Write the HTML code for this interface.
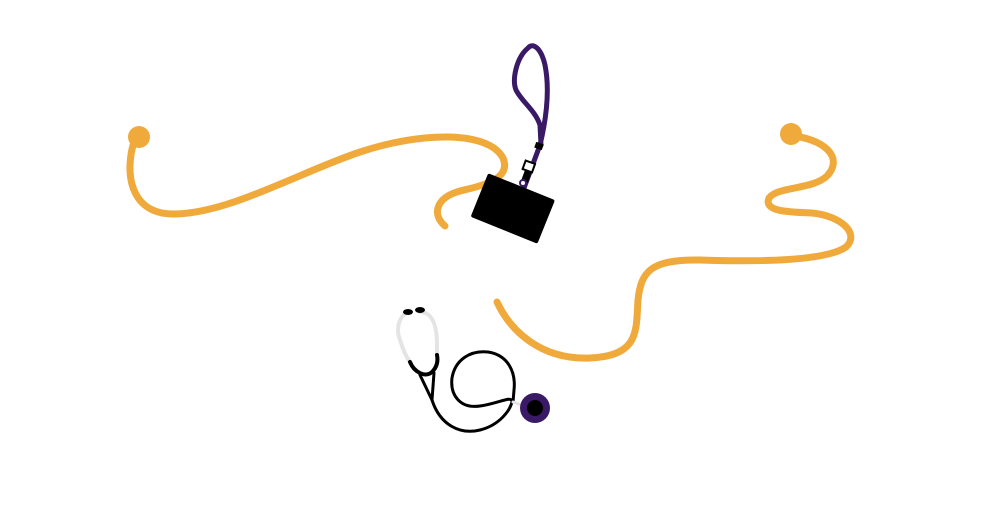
<!DOCTYPE html>
<html><head><meta charset="utf-8"><style>html,body{margin:0;padding:0;background:#fff}svg{display:block}</style></head>
<body>
<svg width="1000" height="529" viewBox="0 0 1000 529" xmlns="http://www.w3.org/2000/svg">
<g fill="none" stroke="#f0aa3c" stroke-width="7" stroke-linecap="round">
<path d="M134,142 C125,170 128,215 175,214 C230,213 300,172 360,152 C420,132 488,130 503,158 C512,180 480,186 460,191 C435,198 432,215 445,226"/>
<path d="M795,136 C830,142 842,160 827,176 C812,190 778,186 769,198 C763,212 790,212 812,213 C842,216 860,234 846,247 C826,261 760,262 700,260 C650,259 641,272 638,300 C636,330 640,356 590,358 C540,360 510,330 497,302"/>
</g>
<circle cx="139" cy="137" r="11" fill="#f0aa3c"/>
<circle cx="791" cy="134" r="11" fill="#f0aa3c"/>
<!-- lanyard -->
<path d="M524,188 L540,145 C546,120 550,90 545,65 C541,48 533,42 528,48 C516,58 512,80 516,90 C522,102 535,110 540,125 L541,145" fill="none" stroke="#3a1a66" stroke-width="5" stroke-linecap="round"/>
<rect x="535" y="143" width="8" height="6" fill="#000" transform="rotate(20 539 146)"/>
<rect x="524" y="162" width="10" height="9" fill="#fff" stroke="#000" stroke-width="2" transform="rotate(20 529 166)"/>
<rect x="523" y="170" width="7" height="12" fill="#000" transform="rotate(20 526 176)"/>
<circle cx="523" cy="183" r="3" fill="#fff" stroke="#3a1a66" stroke-width="2"/>
<rect x="477" y="185" width="72" height="47" rx="2" fill="#000" transform="rotate(22 513 208)"/>
<!-- stethoscope -->
<g fill="none" stroke-linecap="round">
<path d="M407,312 C398,318 396,330 400,340 C403,350 407,358 410,362" stroke="#e4e4e4" stroke-width="4"/>
<path d="M420,312 C432,312 437,325 437,345 L437,355" stroke="#e4e4e4" stroke-width="4"/>
<path d="M410,362 C414,372 425,378 432,372 C438,366 438,360 437,355" stroke="#000" stroke-width="4"/>
<path d="M420,375 L432,400 M434,373 L432,400" stroke="#000" stroke-width="3"/>
<path d="M432,400 C440,425 460,435 480,430 C500,425 510,410 512,402 C512,395 500,403 480,406 C460,409 450,395 452,378 C455,360 470,350 488,352 C508,355 516,372 514,390 L513,402" stroke="#000" stroke-width="3"/>
<path d="M513,402 L521,405" stroke="#e4e4e4" stroke-width="3"/>
</g>
<ellipse cx="408" cy="312" rx="5" ry="3" fill="#000"/>
<ellipse cx="420" cy="310" rx="5" ry="3" fill="#000"/>
<circle cx="535" cy="408" r="15" fill="#3a1a66"/>
<circle cx="535" cy="408" r="8" fill="#000"/>
</svg>
</body></html>
